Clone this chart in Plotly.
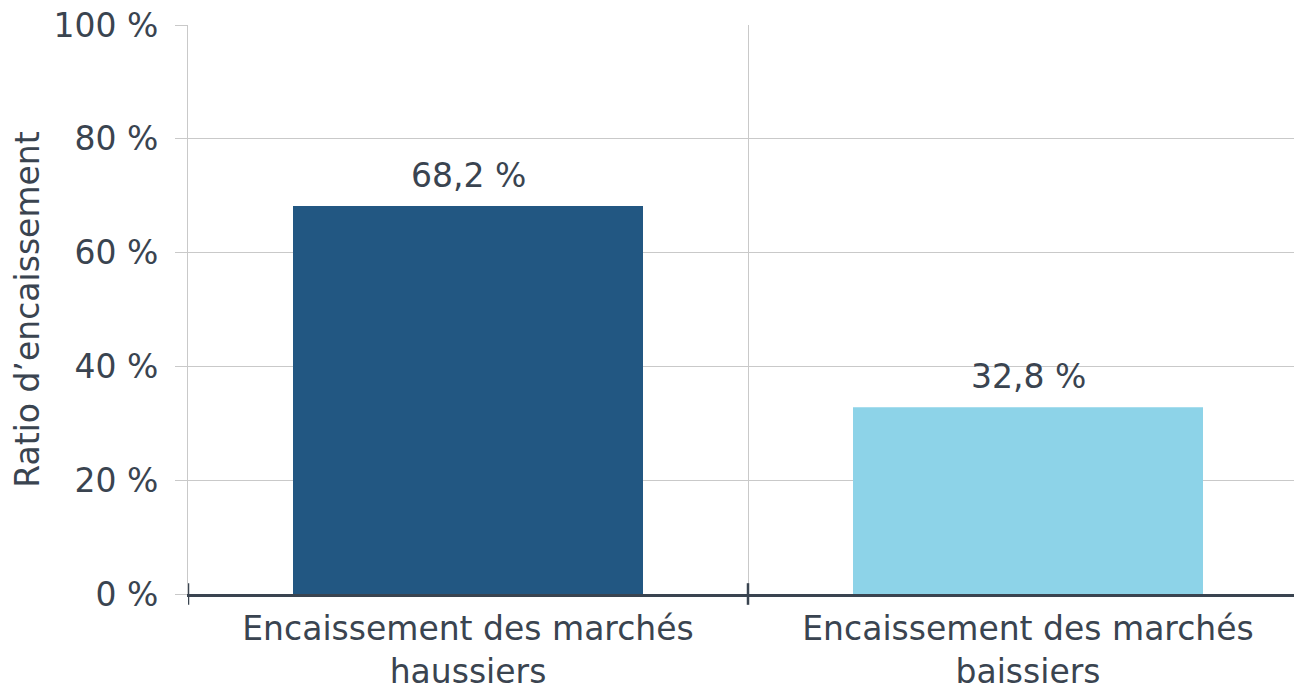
import plotly.graph_objects as go

categories = ["Encaissement des marchés<br>haussiers", "Encaissement des marchés<br>baissiers"]
values = [68.2, 32.8]
value_labels = ["68,2 %", "32,8 %"]
bar_colors = ["#225782", "#8dd3e8"]
y_ticks = [0, 20, 40, 60, 80, 100]
y_tick_labels = ["0 %", "20 %", "40 %", "60 %", "80 %", "100 %"]

FONT = "DejaVu Sans"
FS = 33
TXT = "#3a4450"
GRID = "#c9c9c9"
AXIS = "#3a4450"

fig = go.Figure()
fig.add_trace(go.Bar(
    x=categories, y=values, marker=dict(color=bar_colors, line=dict(width=0)),
    width=0.625, hoverinfo="skip",
))

for c, v, t in zip(categories, values, value_labels):
    fig.add_annotation(x=c, y=v, text=t, showarrow=False, yanchor="bottom",
                       yshift=9, font=dict(family=FONT, size=FS, color=TXT))

# crossing tick marks at category boundaries
for xb in [-0.5, 0.5]:
    fig.add_shape(type="line", xref="x", yref="paper", x0=xb, x1=xb,
                  y0=-0.019, y1=0.019, line=dict(color=AXIS, width=2.5), layer="above")

fig.update_layout(
    width=1294, height=692,
    margin=dict(l=188, r=0, t=25, b=98),
    paper_bgcolor="white", plot_bgcolor="white",
    showlegend=False,
    xaxis=dict(
        type="category", range=[-0.5, 1.475], tickson="boundaries",
        showgrid=True, gridcolor=GRID, gridwidth=1.2,
        ticks="", showline=True, linecolor=AXIS, linewidth=2.5,
        ticklabelstandoff=4, automargin=False,
        tickfont=dict(family=FONT, size=FS, color=TXT), zeroline=False,
    ),
    yaxis=dict(
        range=[0, 100], tickvals=y_ticks, ticktext=y_tick_labels,
        showgrid=True, gridcolor=GRID, gridwidth=1.2,
        ticks="outside", ticklen=12, tickcolor=GRID, tickwidth=1.2,
        showline=True, linecolor=GRID, linewidth=1.2, zeroline=False,
        ticklabelstandoff=10, automargin=False,
        tickfont=dict(family=FONT, size=FS, color=TXT),
        title=dict(text="Ratio d’encaissement", font=dict(family=FONT, size=FS, color=TXT), standoff=3),
    ),
)

fig.write_html("out.html", config={"displayModeBar": False},
               post_script="document.body.style.margin='0';document.body.style.overflow='hidden';")
